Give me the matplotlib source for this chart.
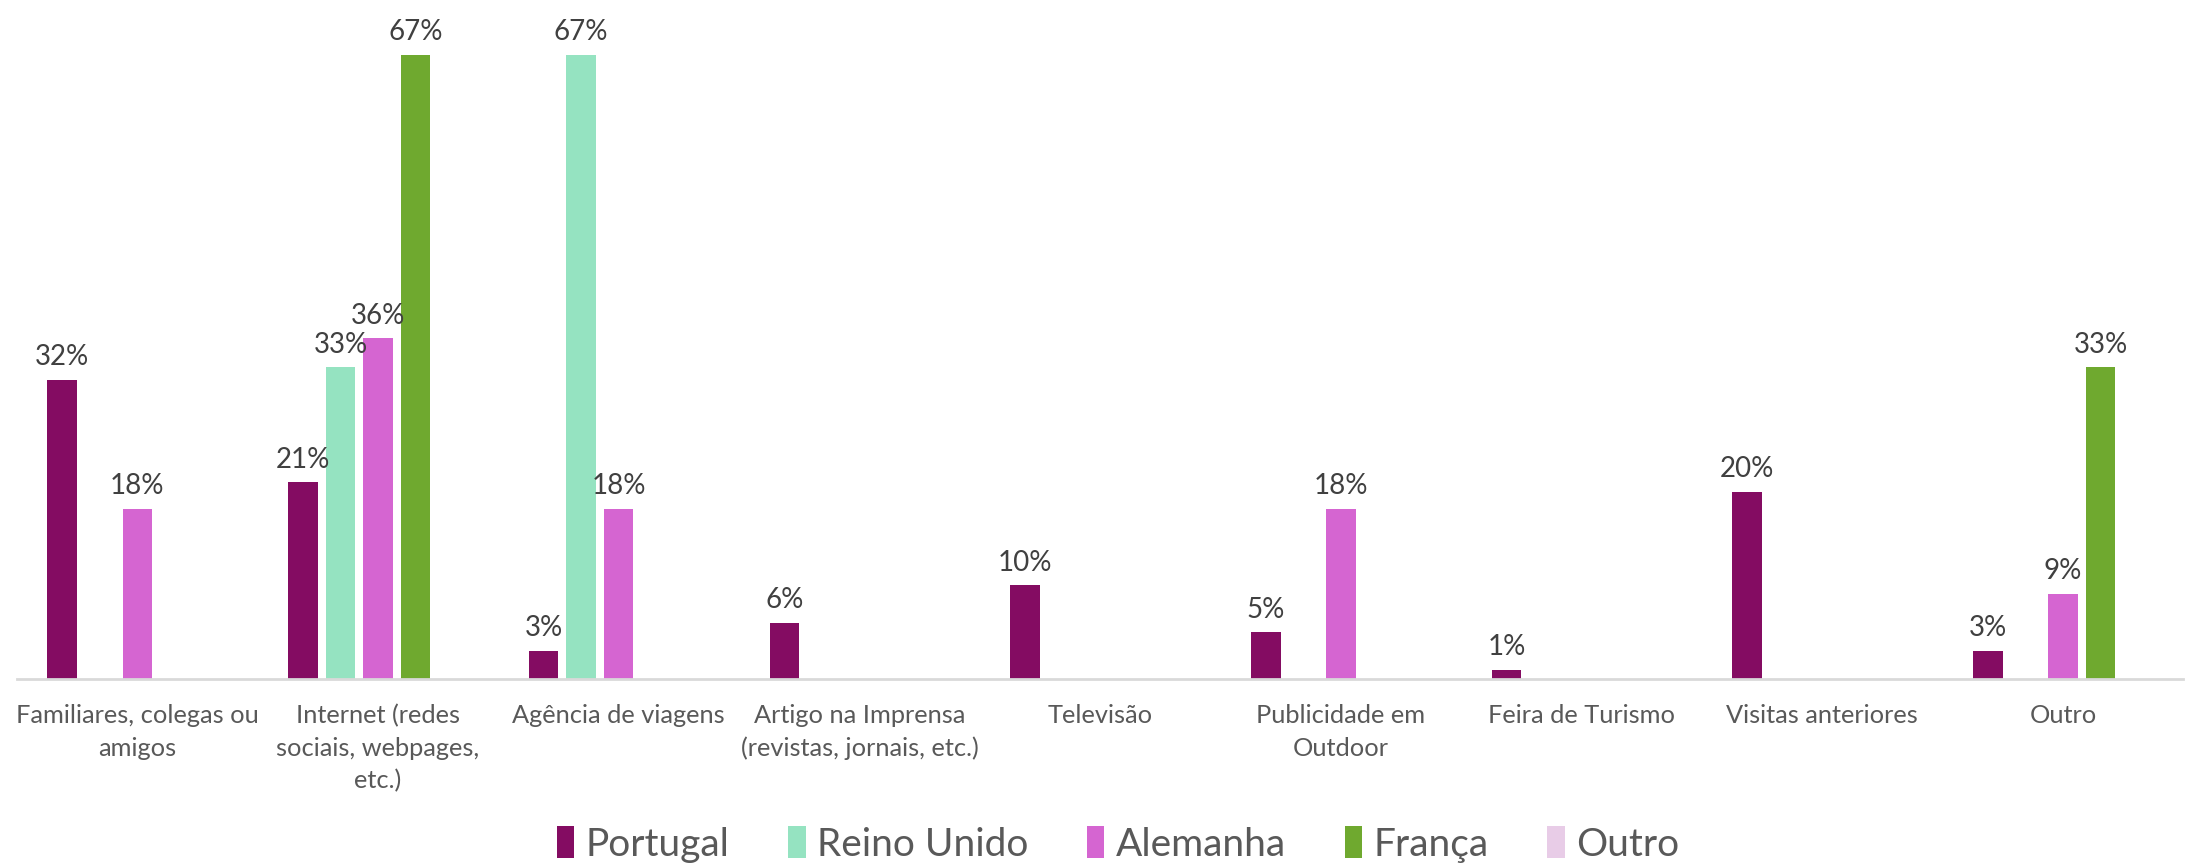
import numpy as np
from matplotlib import pyplot as plt

# Данные
categorias = ["Familiares, colegas ou\namigos", "Internet (redes\nsociais, webpages,\netc.)",
              "Agência de viagens", "Artigo na Imprensa\n(revistas, jornais, etc.)", "Televisão",
              "Publicidade em\nOutdoor", "Feira de Turismo", "Visitas anteriores", "Outro"]
series = ["Portugal", "Reino Unido", "Alemanha", "França", "Outro"]
portugal = [32, 21, 3, 6, 10, 5, 1, 20, 3]
reino_unido = [np.nan, 33.3, 66.7, np.nan, np.nan, np.nan, np.nan, np.nan, np.nan]
alemanha = [18.2, 36.4, 18.2, np.nan, np.nan, 18.2, np.nan, np.nan, 9.1]
franca = [np.nan, 66.7, np.nan, np.nan, np.nan, np.nan, np.nan, np.nan, 33.3]
outro = [np.nan] * 9

valores = [portugal, reino_unido, alemanha, franca, outro]
cores = ['#840C62', '#95E3C1', '#D565D1', '#6FA92F', '#E8CCE7']

plt.rcParams['font.family'] = ['Lato', 'DejaVu Sans']

fig = plt.figure(figsize=(22.01, 8.67), dpi=100)
ax = fig.add_axes([0.0077, 0.2168, 0.9843, 0.76])

x = np.arange(len(categorias))
passo = 0.156
largura = 0.1225

for i, (nome, v, c) in enumerate(zip(series, valores, cores)):
    pos = x + (i - 2) * passo
    ax.bar(pos, v, width=largura, color=c, label=nome)
    for p, val in zip(pos, v):
        if np.isnan(val):
            continue
        ax.annotate(f"{val:.0f}%", (p, val), xytext=(0, 7), textcoords='offset points',
                    ha='center', va='bottom', fontsize=20, color='#404040')

ax.set_xlim(-0.5, len(categorias) - 0.5)
ax.set_ylim(0, 70.4)
ax.set_xticks(x)
ax.set_xticklabels(categorias, fontsize=18.3, color='#595959', linespacing=1.5, va='top')
ax.tick_params(axis='x', length=0, pad=18)
ax.set_yticks([])

for s in ['top', 'right', 'left']:
    ax.spines[s].set_visible(False)
ax.spines['bottom'].set_color('#D9D9D9')
ax.spines['bottom'].set_linewidth(2)

# Легенда
fig.legend(loc='center', bbox_to_anchor=(0.508, 0.026), ncol=5, frameon=False,
           fontsize=28, labelcolor='#595959', handlelength=0.45, handleheight=0.9,
           handletextpad=0.3, columnspacing=1.5)

fig.savefig('out.png', dpi=100)
